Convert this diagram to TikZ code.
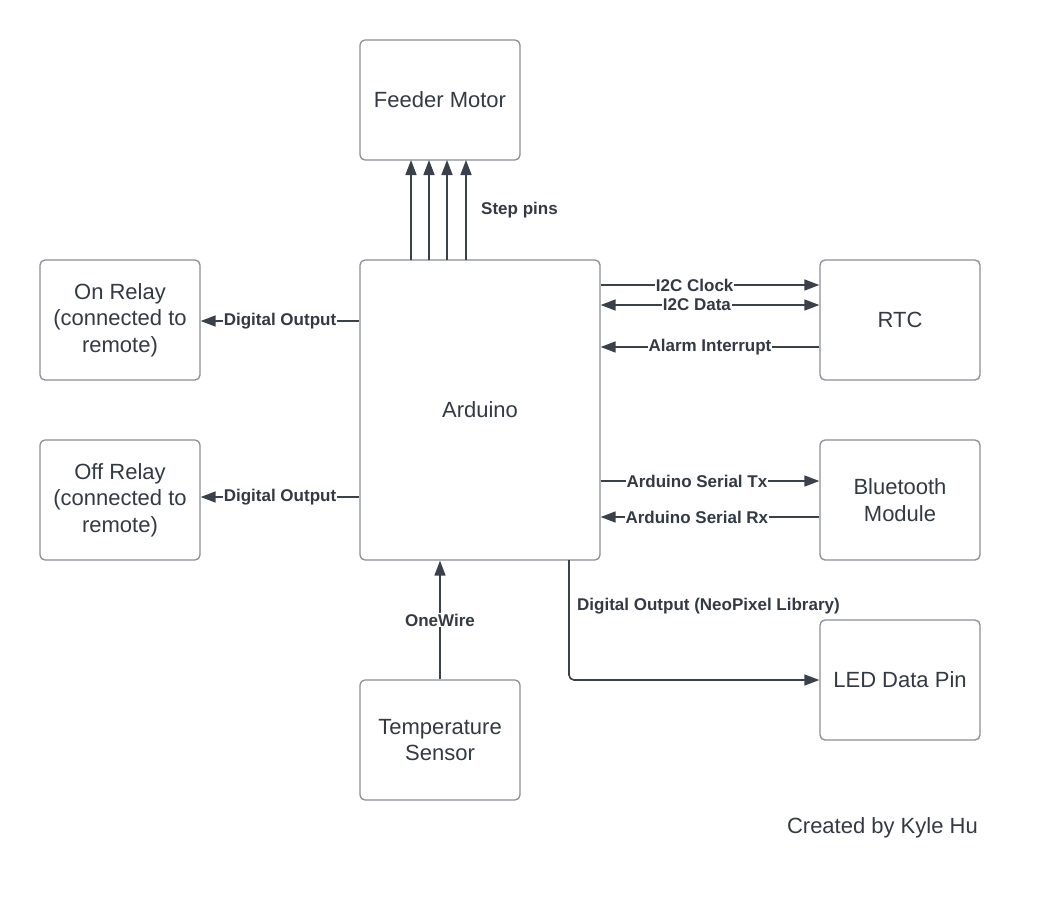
\documentclass[tikz,border=0pt]{standalone}
\usepackage{fontspec}
\setmainfont{Liberation Sans}
\usetikzlibrary{arrows.meta}
\definecolor{boxline}{HTML}{8A8F96}
\definecolor{conn}{HTML}{3A414B}
\definecolor{txt}{HTML}{333A44}
\tikzset{
  blk/.style={draw=boxline, line width=1.3pt, rounded corners=5pt, fill=white,
    minimum width=160pt, minimum height=120pt, inner sep=0pt, align=center,
    text=txt, font=\fontsize{22}{26.5}\selectfont},
  tip/.style={Triangle[length=15pt,width=11pt]},
  wire/.style={draw=conn, line width=1.6pt, -{Triangle[length=15pt,width=11pt]}},
  wire2/.style={draw=conn, line width=1.6pt, {Triangle[length=15pt,width=11pt]}-{Triangle[length=15pt,width=11pt]}},
  lbl/.style={fill=white, inner sep=1pt, text=txt, font=\bfseries\fontsize{17}{20}\selectfont},
  lblfree/.style={inner sep=0pt, text=txt, font=\bfseries\fontsize{17}{20}\selectfont},
}
\begin{document}
\begin{tikzpicture}[x=1pt,y=-1pt]
\useasboundingbox (0,0) rectangle (1042,900);
\fill[white] (0,0) rectangle (1042,900);

\node[blk] (feeder) at (440,100) {Feeder Motor};
\node[blk] (on) at (120,320) {On Relay\\(connected to\\remote)};
\node[blk] (off) at (120,500) {Off Relay\\(connected to\\remote)};
\node[blk, minimum width=240pt, minimum height=300pt] (ard) at (480,410) {Arduino};
\node[blk] (rtc) at (900,320) {RTC};
\node[blk] (bt) at (900,500) {Bluetooth\\Module};
\node[blk] (led) at (900,680) {LED Data Pin};
\node[blk] (temp) at (440,740) {Temperature\\Sensor};
\node[text=txt, font=\fontsize{22}{26}\selectfont, anchor=east, inner sep=0pt] (credit) at (978,828) {Created by Kyle Hu};

% step pins
\foreach \x/\n in {411/a,429/b,447/c,466/d}{
  \coordinate (s\n) at (\x,260);
  \coordinate (t\n) at (\x,160);
  \draw[wire] (s\n) -- (t\n);
}
\node[lblfree, anchor=west] (steplbl) at (481,210) {Step pins};

% left
\draw[wire] (ard.west |- 0,321) -- node[lbl, pos=0.5] {Digital Output} (on.east |- 0,321);
\draw[wire] (ard.west |- 0,497) -- node[lbl, pos=0.5] {Digital Output} (off.east |- 0,497);

% RTC
\draw[wire] (ard.east |- 0,285) -- node[lbl, pos=0.43] {I2C Clock} (rtc.west |- 0,285);
\draw[wire2] (ard.east |- 0,305) -- node[lbl, pos=0.44] {I2C Data} (rtc.west |- 0,305);
\draw[wire] (rtc.west |- 0,347) -- node[lbl, pos=0.5] {Alarm Interrupt} (ard.east |- 0,347);

% Bluetooth
\draw[wire] (ard.east |- 0,481) -- node[lbl, pos=0.44] {Arduino Serial Tx} (bt.west |- 0,481);
\draw[wire] (bt.west |- 0,517) -- node[lbl, pos=0.56] {Arduino Serial Rx} (ard.east |- 0,517);

% NeoPixel
\draw[wire, rounded corners=5pt] (569,560) |- (led.west |- 0,680);
\node[lblfree, anchor=west] (neolbl) at (577,606) {Digital Output (NeoPixel Library)};

% OneWire
\draw[wire] (temp.north) -- node[lbl, pos=0.5] {OneWire} (ard.south -| temp.north);
\end{tikzpicture}
\end{document}
